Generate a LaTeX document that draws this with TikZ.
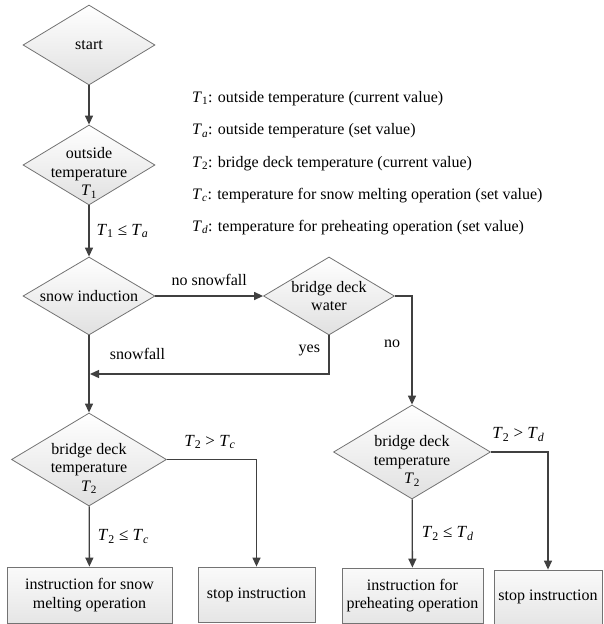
\documentclass[tikz,border=0pt]{standalone}
\usepackage{fontspec}
\setmainfont{Liberation Serif}
\usetikzlibrary{arrows.meta,shapes.geometric}
\newcommand{\Tv}[1]{\textit{T}\textsubscript{#1}}

\begin{document}
\begin{tikzpicture}[
  x=1pt, y=-1pt,
  font=\fontsize{16}{18.5}\selectfont,
  flow/.style={-{Triangle[length=9pt,width=8pt]}, line width=1.3pt, draw=black!75},
  dia/.style={diamond, draw=black!55, top color=white, bottom color=black!12, line width=0.8pt, inner sep=0pt},
  box/.style={rectangle, draw=black!55, top color=black!2, bottom color=black!10, line width=0.8pt, align=center, inner sep=0pt},
  cond/.style={font=\fontsize{17}{20}\selectfont, inner sep=1pt},
  inlbl/.style={align=center, inner sep=0pt},
  legend/.style={anchor=base west, inner sep=0pt}
]
\useasboundingbox (0,0) rectangle (603,624);

% decisions
\node[dia, minimum width=132pt, minimum height=80pt,
  label={[inlbl]center:start}] (start) at (89,45) {};
\node[dia, minimum width=132pt, minimum height=80pt,
  label={[inlbl, yshift=-8pt]center:{outside\\temperature\\\Tv{1}}}] (otemp) at (89,165) {};
\node[dia, minimum width=132pt, minimum height=78pt,
  label={[inlbl]center:snow induction}] (snow) at (89,296) {};
\node[dia, minimum width=131pt, minimum height=78pt,
  label={[inlbl]center:{bridge deck\\water}}] (water) at (329,296) {};
\node[dia, minimum width=155pt, minimum height=93pt,
  label={[inlbl, yshift=-9pt]center:{bridge deck\\temperature\\\Tv{2}}}] (btl) at (89,459.5) {};
\node[dia, minimum width=157pt, minimum height=94pt,
  label={[inlbl, yshift=-9pt]center:{bridge deck\\temperature\\\Tv{2}}}] (btr) at (412,452) {};

% instructions
\node[box, minimum width=165pt, minimum height=56pt] (melt) at (89.5,595)
  {instruction for snow\\melting operation};
\node[box, minimum width=117pt, minimum height=55pt] (stopL) at (256.5,594.5)
  {stop instruction};
\node[box, minimum width=141pt, minimum height=55pt] (preheat) at (412.5,595.5)
  {instruction for\\preheating operation};
\node[box, minimum width=108pt, minimum height=54pt] (stopR) at (548,597)
  {stop instruction};

% legend
\node[legend] (legA) at (192,102) {\Tv{1}: outside temperature (current value)};
\node[legend] (legB) at (192,134.5) {\Tv{\textit{a}}: outside temperature (set value)};
\node[legend] (legC) at (192,167) {\Tv{2}: bridge deck temperature (current value)};
\node[legend] (legD) at (192,199) {\Tv{\textit{c}}: temperature for snow melting operation (set value)};
\node[legend] (legE) at (192,231) {\Tv{\textit{d}}: temperature for preheating operation (set value)};

% connectors
\coordinate (join) at (90,374);
\draw[flow] (start) -- (otemp);
\draw[flow] (otemp) -- node[cond, right=6pt] {\Tv{1} ≤ \Tv{\textit{a}}} (snow);
\draw[flow] (snow) -- node[above=6pt] {no snowfall} (water);
\draw[flow] (snow) -- node[pos=0.24, right=17pt] {snowfall} (btl);
\draw[flow] (water.south) |- node[pos=0.2, left=5pt] {yes} (join);
\draw[flow] (water.east) -| node[pos=0.72, left=8pt] {no} (btr.north);
\draw[flow] (btl.east) -| node[cond, pos=0.24, above=9pt] {\Tv{2} > \Tv{\textit{c}}} (stopL.north);
\draw[flow] (btl) -- node[cond, right=7pt] {\Tv{2} ≤ \Tv{\textit{c}}} (melt);
\draw[flow] (btr.east) -| node[cond, pos=0.24, above=9pt] {\Tv{2} > \Tv{\textit{d}}} (stopR.north);
\draw[flow] (btr) -- node[cond, right=8pt] {\Tv{2} ≤ \Tv{\textit{d}}} (preheat);
\end{tikzpicture}
\end{document}
